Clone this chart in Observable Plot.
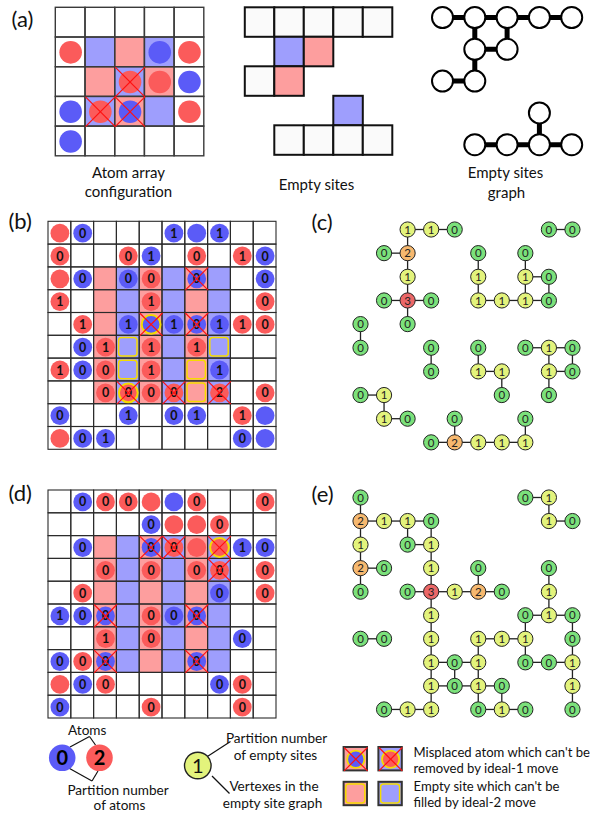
<!DOCTYPE html>
<html>
<head>
<meta charset="utf-8">
<script src="https://cdn.jsdelivr.net/npm/d3@7"></script>
<script src="https://cdn.jsdelivr.net/npm/@observablehq/plot@0.6"></script>
<style>
  body { margin: 0; background: #fff; }
  #chart svg { display: block; }
</style>
</head>
<body>
<div id="chart"></div>
<script>
// ---- Panel (a): 5×5 atom array ('.' empty, 'r' red atom, 'b' blue atom)
const aAtoms = [".....", "r..br", "..rrb", "brb.r", "b...."];
// background shading of the target region ('p' pink, 'b' blue)
const aBg    = [".....", ".bpb.", ".pbp.", ".bpb.", "....."];
// 'x' misplaced (crossed) atom
const aMarks = [".....", ".....", "..x..", ".xx..", "....."];

// ---- Panel (b): 10×10 atom array with partition numbers of atoms
const bAtoms  = ["rb...bbb..", "r..rb.r.rb", "rb.br.b..b", "r...r....r", ".r.bbbbbrr",
                 ".br.r.r...", "rbr.r..b..", "..rrrr.r.r", "b..b.bb.rb", "rbb.....bb"];
const bLabels = ["-0---1-1--", "0--01-0-10", "-0-00-0--0", "1---1----0", "-1-1-10110",
                 "-01-1-1---", "100-1--1--", "--0000-2-0", "0--1-01-1-", "-01-----0-"];
// 'x' crossed, 'o' crossed + yellow ring, 's' empty site that cannot be filled
const bMarks  = ["..........", "..........", "......x...", "..........", "....o.x...",
                 "...s...s..", "...s..s...", "...o.xsx..", "..........", ".........."];
const bBg     = ["..........", "..........", "..pbpbpb..", "..pbpbpb..", "..pbpbpb..",
                 "..pbpbpb..", "..pbpbpb..", "..pbpbpb..", "..........", ".........."];
// ---- Panel (c): partition numbers of the empty sites of (b)
const cParts  = ["..110...00", ".02..0.0..", "..1..1.10.", ".030.1110.", "0.0.......",
                 "0..0.0.010", "...0.11.10", "01....0.0.", ".10.0..0..", "...02111.."];

// ---- Panel (d)
const dAtoms  = [".brrrbr..r", "....brrr..", ".b..brrrbb", "..r.r.rr.r", ".r.....b.r",
                 "bbb.rbb...", "..r.r...b.", "brb...b...", "rbr....br.", "b...r...r."];
const dLabels = ["-000--0--0", "----0--0--", "-0--00--10", "--0-0-00-0", "-0-----0-0",
                 "100-000---", "--1-0---0-", "000---0---", "-00----00-", "0---0---0-"];
const dMarks  = ["..........", "..........", "....xx.o..", ".......x..", "..........",
                 "..x...x...", "..........", "..x...x...", "..........", ".........."];
const dBg     = bBg;
// ---- Panel (e): partition numbers of the empty sites of (d)
const eParts  = ["0......01.", "2110....10", "1.01......", "20.1.0..0.", "0.03120.1.",
                 "...1...010", "00.1.111.0", "...101.001", "...1010..1", ".011.010.0"];

// ---- Legend keys
const keyAtoms  = ["br", ".."];
const keyBg     = ["pb", "pb"];
const keyMarks  = ["oo", "ss"];
const legendAtoms = [{atom: "b", label: "0"}, {atom: "r", label: "2"}];
const legendVertex = {v: "1"};

const W = 591, H = 813;
const FONT = "Lato, 'Open Sans', 'DejaVu Sans', sans-serif";
const atomFill = {r: "#fb5b5b", b: "#5b5bf7"};
const bgFill = {p: "#fd9e9e", b: "#9e9efd"};
const partFill = {"0": "#7be17b", "1": "#e3f37c", "2": "#f6b86f", "3": "#eb6767"};
const CROSS = "#ff1010", RING = "#f5dc00";

// Cells of a square grid laid out from its top-left corner
function cellsOf(atoms, labels, marks, bg, ox, oy, size, pitch = size) {
  const out = [];
  atoms.forEach((line, r) => {
    [...line].forEach((atom, c) => {
      const x1 = ox + c * pitch, y1 = oy + r * pitch;
      out.push({
        r, c, atom,
        label: labels ? labels[r][c] : "-",
        mark: marks[r][c], bg: bg[r][c],
        x1, x2: x1 + size, y1, y2: y1 + size,
        cx: x1 + size / 2, cy: y1 + size / 2
      });
    });
  });
  return out;
}

// Graph of empty sites: a vertex per site, an edge between 4-neighbours
function graphOf(parts, ox, oy, dx, dy) {
  const nodes = [];
  parts.forEach((line, r) => [...line].forEach((v, c) => {
    if (v !== ".") nodes.push({r, c, v, x: ox + c * dx, y: oy + r * dy});
  }));
  const byKey = new Map(nodes.map(n => [n.r + "," + n.c, n]));
  const edges = [];
  for (const n of nodes) {
    for (const [dr, dc] of [[0, 1], [1, 0]]) {
      const m = byKey.get((n.r + dr) + "," + (n.c + dc));
      if (m) edges.push({x1: n.x, y1: n.y, x2: m.x, y2: m.y});
    }
  }
  return {nodes, edges};
}

const box = {x1: "x1", x2: "x2", y1: "y1", y2: "y2"};

function gridMarks(cells, {rAtom, fontSize, gridStroke = "#2b2b2b", gridWidth = 1.1, ringWidth = 2}) {
  const atoms = cells.filter(d => d.atom !== ".");
  const crossed = cells.filter(d => d.mark === "x" || d.mark === "o");
  return [
    Plot.rect(cells.filter(d => d.bg !== "."), {...box, fill: d => bgFill[d.bg]}),
    Plot.rect(cells.filter(d => d.mark === "s"), {...box, inset: 2.2, rx: 3, fill: "none", stroke: RING, strokeWidth: 1.5}),
    Plot.rect(cells, {...box, fill: "none", stroke: gridStroke, strokeWidth: gridWidth}),
    Plot.dot(atoms, {x: "cx", y: "cy", r: rAtom, fill: d => atomFill[d.atom]}),
    Plot.dot(cells.filter(d => d.mark === "o"), {x: "cx", y: "cy", r: rAtom, fill: "none", stroke: RING, strokeWidth: ringWidth}),
    Plot.text(atoms.filter(d => d.label !== "-"), {x: "cx", y: "cy", text: "label", fontSize, fontWeight: "bold", fill: "#111", fontFamily: FONT, dy: 0.5}),
    Plot.link(crossed, {x1: "x1", y1: "y1", x2: "x2", y2: "y2", stroke: CROSS, strokeWidth: 1.2}),
    Plot.link(crossed, {x1: "x1", y1: "y2", x2: "x2", y2: "y1", stroke: CROSS, strokeWidth: 1.2})
  ];
}

function graphMarks(g, {r = 7.6, fontSize = 11.5}) {
  return [
    Plot.link(g.edges, {...box, stroke: "#222", strokeWidth: 1.3}),
    Plot.dot(g.nodes, {x: "x", y: "y", r, fill: d => partFill[d.v], stroke: "#222", strokeWidth: 1}),
    Plot.text(g.nodes, {x: "x", y: "y", text: "v", fontSize, fill: "#222", fontFamily: FONT, dy: 0.5})
  ];
}

// ---- Build panels
const aCells = cellsOf(aAtoms, null, aMarks, aBg, 55.3, 7.3, 29.7);
const esCells = cellsOf(aAtoms, null, aMarks, aBg, 244.8, 7.3, 29.5).filter(d => d.atom === ".");
const aEmpty = aAtoms.map(s => [...s].map(ch => ch === "." ? "o" : ".").join(""));
const aGraph = graphOf(aEmpty, 442, 17, 32.3, 31.8);

const bCells = cellsOf(bAtoms, bLabels, bMarks, bBg, 48, 221.3, 22.8);
const cGraph = graphOf(cParts, 360, 229, 23.55, 23.65);
const dCells = cellsOf(dAtoms, dLabels, dMarks, dBg, 48, 490, 22.8);
const eGraph = graphOf(eParts, 360, 497, 23.55, 23.55);

const keyCells = cellsOf(keyAtoms, null, keyMarks, keyBg, 343.6, 747, 23.4, 34.8);

const legAtoms = legendAtoms.map((d, i) => ({...d, x: 61.7 + i * 37.3, y: 757.3}));
const legVertex = [{...legendVertex, x: 197.3, y: 765}];

const pointers = [
  {x1: 89, y1: 736, x2: 69.5, y2: 746.5},
  {x1: 89, y1: 736, x2: 95, y2: 744.5},
  {x1: 65.5, y1: 766, x2: 91.5, y2: 780.5},
  {x1: 97.5, y1: 770.5, x2: 91.5, y2: 780.5},
  {x1: 230, y1: 741, x2: 203, y2: 758.5},
  {x1: 211.5, y1: 775.5, x2: 229, y2: 793}
];

const panelLabels = [
  {x: 11, y: 19, t: "(a)"}, {x: 8, y: 221, t: "(b)"}, {x: 311, y: 222, t: "(c)"},
  {x: 8, y: 493, t: "(d)"}, {x: 311, y: 494, t: "(e)"}
];
const captions = [
  {x: 128, y: 173, t: "Atom array"}, {x: 128, y: 192, t: "configuration"},
  {x: 316, y: 185, t: "Empty sites"},
  {x: 505, y: 173, t: "Empty sites"}, {x: 506, y: 193, t: "graph"}
];
const legendText = [
  {x: 86.7, y: 730.5, t: "Atoms"},
  {x: 117.5, y: 790, t: "Partition number"},
  {x: 119, y: 805.5, t: "of atoms"},
  {x: 276, y: 738.5, t: "Partition number"},
  {x: 275, y: 755, t: "of empty sites"},
  {x: 273.5, y: 786.5, t: "Vertexes in the"},
  {x: 272, y: 803, t: "empty site graph"}
];
const keyText = [
  {x: 413, y: 752, t: "Misplaced atom which can't be"},
  {x: 413, y: 768.5, t: "removed by ideal-1 move"},
  {x: 413, y: 786, t: "Empty site which can't be"},
  {x: 413, y: 802.5, t: "filled by ideal-2 move"}
];

const chart = Plot.plot({
  width: W, height: H, margin: 0,
  x: {type: "identity", axis: null},
  y: {type: "identity", axis: null},
  color: {type: "identity"},
  style: {fontFamily: FONT, background: "#fff"},
  marks: [
    // (a) atom array
    ...gridMarks(aCells, {rAtom: 11.3, fontSize: 12, gridStroke: "#3a3a3a", gridWidth: 1.4}),
    // (a) empty sites
    Plot.rect(esCells, {...box, fill: d => d.bg === "." ? "#fafafa" : bgFill[d.bg], stroke: "#111", strokeWidth: 2}),
    // (a) empty sites graph
    Plot.link(aGraph.edges, {...box, stroke: "#000", strokeWidth: 5}),
    Plot.dot(aGraph.nodes, {x: "x", y: "y", r: 10.5, fill: "#fff", stroke: "#000", strokeWidth: 2}),
    // (b)–(e)
    ...gridMarks(bCells, {rAtom: 9.4, fontSize: 12.5}),
    ...graphMarks(cGraph, {}),
    ...gridMarks(dCells, {rAtom: 9.4, fontSize: 12.5}),
    ...graphMarks(eGraph, {}),
    // legend
    Plot.link(pointers, {...box, stroke: "#111", strokeWidth: 1.2}),
    Plot.dot(legAtoms, {x: "x", y: "y", r: 13.3, fill: d => atomFill[d.atom]}),
    Plot.text(legAtoms, {x: "x", y: "y", text: "label", fontSize: 20, fontWeight: "bold", fill: "#000", fontFamily: FONT, dy: 1}),
    Plot.dot(legVertex, {x: "x", y: "y", r: 13.3, fill: d => partFill[d.v], stroke: "#222", strokeWidth: 1.4}),
    Plot.text(legVertex, {x: "x", y: "y", text: "v", fontSize: 20, fill: "#111", fontFamily: FONT, dy: 1}),
    ...gridMarks(keyCells, {rAtom: 8.6, fontSize: 11, gridStroke: "#333", gridWidth: 2, ringWidth: 1.8}),
    // text
    Plot.text(panelLabels, {x: "x", y: "y", text: "t", fontSize: 22, textAnchor: "start", fill: "#111", fontFamily: FONT}),
    Plot.text(captions, {x: "x", y: "y", text: "t", fontSize: 15, fill: "#111", fontFamily: FONT}),
    Plot.text(legendText, {x: "x", y: "y", text: "t", fontSize: 13.6, textAnchor: "middle", fill: "#111", fontFamily: FONT}),
    Plot.text(keyText, {x: "x", y: "y", text: "t", fontSize: 13.1, textAnchor: "start", fill: "#111", fontFamily: FONT})
  ]
});

document.getElementById("chart").appendChild(chart);
</script>
</body>
</html>
